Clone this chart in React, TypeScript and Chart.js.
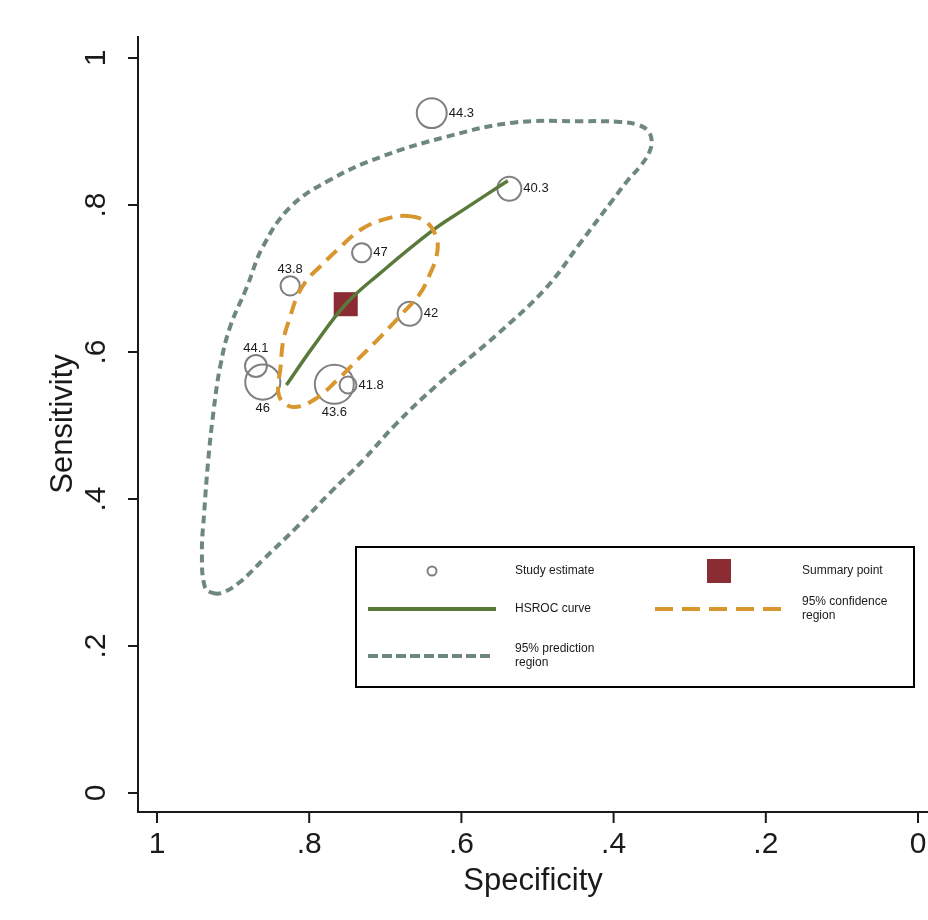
import React, { useEffect, useRef } from 'react';
import { Chart, registerables } from 'chart.js';

Chart.register(...registerables);

// ---------- data ----------
const studyLabels = ['44.3', '40.3', '47', '43.8', '42', '44.1', '46', '43.6', '41.8'];
const studySpecificity = [0.639, 0.537, 0.731, 0.825, 0.668, 0.870, 0.861, 0.767, 0.749];
const studySensitivity = [0.925, 0.822, 0.735, 0.690, 0.652, 0.581, 0.559, 0.556, 0.555];
const studyWeight = [56, 36, 23, 23, 36, 30, 77, 95, 18];
const studyLabelPos = ['right', 'right', 'right', 'top', 'right', 'top', 'bottom', 'bottom', 'right'];

const summarySpecificity = [0.752];
const summarySensitivity = [0.665];

const hsrocSpecificity = [0.830, 0.795, 0.752, 0.707, 0.637, 0.598, 0.539];
const hsrocSensitivity = [0.555, 0.607, 0.665, 0.707, 0.766, 0.793, 0.833];

const confSpecificity = [0.671, 0.645, 0.632, 0.633, 0.641, 0.654, 0.677, 0.707, 0.737, 0.763, 0.792, 0.820,
  0.837, 0.841, 0.838, 0.834, 0.825, 0.816, 0.803, 0.786, 0.763, 0.733, 0.703];
const confSensitivity = [0.785, 0.776, 0.752, 0.729, 0.707, 0.680, 0.653, 0.620, 0.589, 0.562, 0.536, 0.525,
  0.535, 0.552, 0.576, 0.616, 0.648, 0.675, 0.698, 0.716, 0.739, 0.766, 0.780];

const predSpecificity = [0.926, 0.913, 0.891, 0.861, 0.816, 0.773, 0.729, 0.685, 0.632, 0.553, 0.488, 0.444,
  0.401, 0.381, 0.364, 0.353, 0.350, 0.355, 0.368, 0.392, 0.444, 0.532, 0.619, 0.707, 0.773, 0.825, 0.861,
  0.882, 0.904, 0.917, 0.926, 0.933, 0.938, 0.941, 0.937];
const predSensitivity = [0.272, 0.273, 0.287, 0.317, 0.362, 0.408, 0.453, 0.503, 0.555, 0.624, 0.688, 0.748,
  0.807, 0.834, 0.854, 0.872, 0.888, 0.901, 0.909, 0.913, 0.914, 0.912, 0.893, 0.865, 0.834, 0.797, 0.743,
  0.688, 0.634, 0.580, 0.517, 0.449, 0.381, 0.327, 0.280];

const xTicks = [1, 0.8, 0.6, 0.4, 0.2, 0];
const yTicks = [0, 0.2, 0.4, 0.6, 0.8, 1];
const xTitle = 'Specificity';
const yTitle = 'Sensitivity';

// ---------- styles ----------
const FONT = '"Liberation Sans", Arial, Helvetica, sans-serif';
const C_STUDY = '#808080';
const C_SUMMARY = '#8b2b33';
const C_HSROC = '#5a7a3b';
const C_CONF = '#d8972e';
const C_PRED = '#6f8782';

const fmtTick = (v: number) => {
  if (v === 0) return '0';
  if (v === 1) return '1';
  return String(Math.round(v * 10) / 10).replace(/^0/, '');
};

const toPts = (xs: number[], ys: number[]) => xs.map((x, i) => ({ x, y: ys[i] }));

// ---------- plugins ----------
const closedLoopPlugin = {
  id: 'closedLoop',
  afterDatasetsUpdate(chart: any) {
    chart.data.datasets.forEach((ds: any, i: number) => {
      if (!ds.closedLoop) return;
      const line: any = chart.getDatasetMeta(i).dataset;
      if (!line) return;
      line._loop = true;
      line._fullLoop = true;
      delete line._segments;
      delete line._path;
      line._pointsUpdated = false;
    });
  },
};

const axesPlugin = {
  id: 'stataAxes',
  beforeDatasetsDraw(chart: any) {
    const { ctx, chartArea, scales } = chart;
    const x = scales.x;
    const y = scales.y;
    ctx.save();
    ctx.strokeStyle = '#1a1a1a';
    ctx.fillStyle = '#1a1a1a';
    ctx.lineWidth = 2;
    ctx.beginPath();
    ctx.moveTo(chartArea.left, chartArea.top);
    ctx.lineTo(chartArea.left, chartArea.bottom);
    ctx.lineTo(chartArea.right, chartArea.bottom);
    ctx.stroke();

    ctx.font = `30px ${FONT}`;
    ctx.textAlign = 'center';
    ctx.textBaseline = 'middle';
    yTicks.forEach((v) => {
      const py = y.getPixelForValue(v);
      ctx.beginPath();
      ctx.moveTo(chartArea.left - 10, py);
      ctx.lineTo(chartArea.left, py);
      ctx.stroke();
      ctx.save();
      ctx.translate(chartArea.left - 41, py);
      ctx.rotate(-Math.PI / 2);
      ctx.fillText(fmtTick(v), 0, 0);
      ctx.restore();
    });
    xTicks.forEach((v) => {
      const px = x.getPixelForValue(v);
      ctx.beginPath();
      ctx.moveTo(px, chartArea.bottom);
      ctx.lineTo(px, chartArea.bottom + 11);
      ctx.stroke();
      ctx.fillText(fmtTick(v), px, chartArea.bottom + 33);
    });

    ctx.font = `31px ${FONT}`;
    ctx.fillText(xTitle, (chartArea.left + chartArea.right) / 2, chartArea.bottom + 69);
    ctx.save();
    ctx.translate(chartArea.left - 75, (chartArea.top + chartArea.bottom) / 2);
    ctx.rotate(-Math.PI / 2);
    ctx.fillText(yTitle, 0, 0);
    ctx.restore();
    ctx.restore();
  },
};

const studyLabelPlugin = {
  id: 'studyLabels',
  afterDatasetsDraw(chart: any) {
    const { ctx } = chart;
    const meta = chart.getDatasetMeta(0);
    ctx.save();
    ctx.font = `13px ${FONT}`;
    ctx.fillStyle = '#1a1a1a';
    meta.data.forEach((pt: any, i: number) => {
      const r = pt.options.radius;
      const pos = studyLabelPos[i];
      ctx.textBaseline = 'middle';
      if (pos === 'right') {
        ctx.textAlign = 'left';
        ctx.fillText(studyLabels[i], pt.x + r + 2, pt.y);
      } else if (pos === 'top') {
        ctx.textAlign = 'center';
        ctx.fillText(studyLabels[i], pt.x, pt.y - r - 7);
      } else {
        ctx.textAlign = 'center';
        ctx.fillText(studyLabels[i], pt.x, pt.y + r + 9);
      }
    });
    ctx.restore();
  },
};

const legendPlugin = {
  id: 'stataLegend',
  afterDraw(chart: any) {
    const { ctx } = chart;
    const L = 356, T = 547, W = 558, H = 140;
    ctx.save();
    ctx.fillStyle = '#ffffff';
    ctx.fillRect(L, T, W, H);
    ctx.strokeStyle = '#000000';
    ctx.lineWidth = 2;
    ctx.strokeRect(L, T, W, H);

    const row1 = T + 24, row2 = T + 62, row3 = T + 109;
    const textX1 = L + 159, textX2 = L + 446;

    ctx.strokeStyle = C_STUDY;
    ctx.lineWidth = 2;
    ctx.beginPath();
    ctx.arc(L + 76, row1, 4.5, 0, Math.PI * 2);
    ctx.stroke();
    ctx.fillStyle = C_SUMMARY;
    ctx.fillRect(L + 351, row1 - 12, 24, 24);

    ctx.lineWidth = 4;
    ctx.strokeStyle = C_HSROC;
    ctx.beginPath();
    ctx.moveTo(L + 12, row2);
    ctx.lineTo(L + 140, row2);
    ctx.stroke();
    ctx.strokeStyle = C_CONF;
    ctx.setLineDash([18, 9]);
    ctx.beginPath();
    ctx.moveTo(L + 299, row2);
    ctx.lineTo(L + 426, row2);
    ctx.stroke();
    ctx.strokeStyle = C_PRED;
    ctx.setLineDash([10, 4]);
    ctx.beginPath();
    ctx.moveTo(L + 12, row3);
    ctx.lineTo(L + 138, row3);
    ctx.stroke();
    ctx.setLineDash([]);

    ctx.fillStyle = '#1a1a1a';
    ctx.font = `12px ${FONT}`;
    ctx.textAlign = 'left';
    ctx.textBaseline = 'middle';
    ctx.fillText('Study estimate', textX1, row1);
    ctx.fillText('Summary point', textX2, row1);
    ctx.fillText('HSROC curve', textX1, row2);
    ctx.fillText('95% confidence', textX2, row2 - 7);
    ctx.fillText('region', textX2, row2 + 7);
    ctx.fillText('95% prediction', textX1, row3 - 7);
    ctx.fillText('region', textX1, row3 + 7);
    ctx.restore();
  },
};

export default function App() {
  const ref = useRef<HTMLCanvasElement | null>(null);

  useEffect(() => {
    if (!ref.current) return;
    const chart = new Chart(ref.current, {
      type: 'scatter',
      data: {
        datasets: [
          {
            label: 'Study estimate',
            data: toPts(studySpecificity, studySensitivity),
            pointRadius: studyWeight.map((w) => 2 * Math.sqrt(w)),
            pointHoverRadius: studyWeight.map((w) => 2 * Math.sqrt(w)),
            pointBackgroundColor: 'rgba(0,0,0,0)',
            pointBorderColor: C_STUDY,
            pointBorderWidth: 2,
            showLine: false,
            order: 5,
          },
          {
            label: 'Summary point',
            data: toPts(summarySpecificity, summarySensitivity),
            pointStyle: 'rect',
            pointRadius: 17,
            pointBackgroundColor: C_SUMMARY,
            pointBorderColor: C_SUMMARY,
            pointBorderWidth: 0,
            showLine: false,
            order: 4,
          },
          {
            label: 'HSROC curve',
            data: toPts(hsrocSpecificity, hsrocSensitivity),
            showLine: true,
            borderColor: C_HSROC,
            borderWidth: 3.5,
            pointRadius: 0,
            tension: 0.4,
            fill: false,
            order: 3,
          },
          {
            label: '95% confidence region',
            data: toPts(confSpecificity, confSensitivity),
            showLine: true,
            borderColor: C_CONF,
            borderWidth: 4,
            borderDash: [14, 8],
            pointRadius: 0,
            tension: 0.4,
            spanGaps: true,
            fill: false,
            closedLoop: true,
            order: 2,
          } as any,
          {
            label: '95% prediction region',
            data: toPts(predSpecificity, predSensitivity),
            showLine: true,
            borderColor: C_PRED,
            borderWidth: 4,
            borderDash: [8, 5],
            pointRadius: 0,
            tension: 0.4,
            spanGaps: true,
            fill: false,
            closedLoop: true,
            order: 1,
          } as any,
        ],
      },
      options: {
        responsive: false,
        animation: false,
        devicePixelRatio: 1,
        layout: { autoPadding: false, padding: { left: 138, right: 0, top: 36, bottom: 108 } },
        scales: {
          x: {
            type: 'linear', min: -0.01314, max: 1.02497, reverse: true, display: false,
            ticks: { display: false }, grid: { display: false, drawTicks: false }, border: { display: false },
          },
          y: {
            type: 'linear', min: -0.02585, max: 1.0299, display: false,
            ticks: { display: false }, grid: { display: false, drawTicks: false }, border: { display: false },
          },
        },
        plugins: {
          legend: { display: false },
          tooltip: { enabled: false },
        },
        events: [],
      },
      plugins: [closedLoopPlugin, axesPlugin, studyLabelPlugin, legendPlugin],
    } as any);
    return () => chart.destroy();
  }, []);

  return (
    <div style={{ position: 'fixed', left: 0, top: 0, width: 928, height: 920, background: '#ffffff' }}>
      <canvas ref={ref} width={928} height={920} style={{ display: 'block' }} />
    </div>
  );
}
